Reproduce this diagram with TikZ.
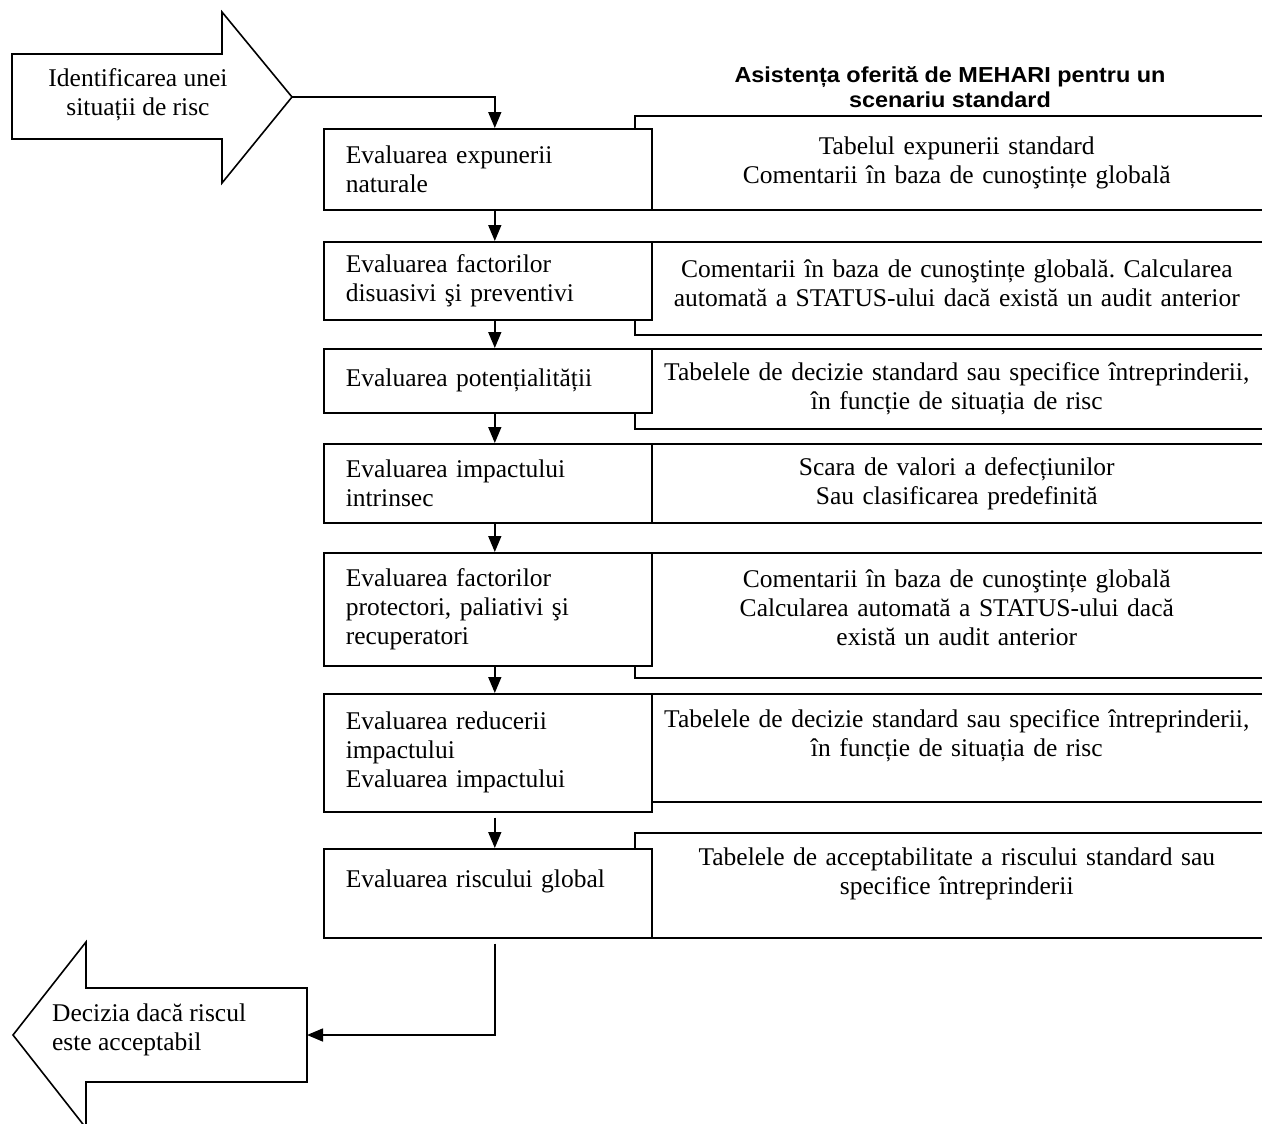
\documentclass[tikz,border=0pt]{standalone}
\usepackage{fontspec}
\setmainfont{Liberation Serif}
\newfontfamily\headfont{Liberation Sans}[FakeStretch=1.08]
\usepackage{tikz}
\usetikzlibrary{arrows.meta}
\frenchspacing

\begin{document}
\begin{tikzpicture}[x=1pt,y=-1pt,line width=1.6pt,
    every node/.style={font=\fontsize{25.5}{29}\selectfont},
    evalbox/.style={draw,fill=white,anchor=north west,minimum width=328pt,
        text width=284pt,inner xsep=22pt,inner ysep=0pt,align=left},
    infobox/.style={draw,anchor=north west,minimum width=644pt,
        text width=600pt,inner xsep=22pt,inner ysep=0pt,align=center},
    flow/.style={-{Triangle[length=16pt,width=13pt]}}]
    \useasboundingbox (0,0) rectangle (1262,1124);

    % Title above the right column
    \node[align=center,font=\headfont\bfseries\fontsize{21.7}{25}\selectfont] (title) at (950,87)
        {Asistența oferită de MEHARI pentru un\\scenariu standard};

    % Entry arrow
    \draw (12,54) -- (222,54) -- (222,12) -- (292,97) -- (222,183) -- (222,139) -- (12,139) -- cycle;
    \coordinate (entry) at (292,97);
    \node[align=center] (start) at (138,95) {Identificarea unei\\situații de risc};

    % Help given by MEHARI (right column, drawn first so the steps cover it)
    \node[infobox,minimum height=94pt] (r1) at (634,115)
        {Tabelul expunerii standard\\Comentarii în baza de cunoştințe globală};
    \node[infobox,minimum height=93pt] (r2) at (634,241)
        {Comentarii în baza de cunoştințe globală. Calcularea\\automată a STATUS-ului dacă există un audit anterior\\[-19pt]\mbox{}};
    \node[infobox,minimum height=80pt] (r3) at (634,348)
        {Tabelele de decizie standard sau specifice întreprinderii,\\în funcție de situația de risc};
    \node[infobox,minimum height=79pt] (r4) at (634,443)
        {Scara de valori a defecțiunilor\\Sau clasificarea predefinită};
    \node[infobox,minimum height=125pt] (r5) at (634,552)
        {Comentarii în baza de cunoştințe globală\\Calcularea automată a STATUS-ului dacă\\există un audit anterior\\[-13pt]\mbox{}};
    \node[infobox,minimum height=108pt] (r6) at (634,693)
        {Tabelele de decizie standard sau specifice întreprinderii,\\în funcție de situația de risc\\\mbox{}};
    \node[infobox,minimum height=105pt] (r7) at (634,832)
        {Tabelele de acceptabilitate a riscului standard sau\\specifice întreprinderii\\\mbox{}};

    % Evaluation steps (left column)
    \node[evalbox,minimum height=81pt] (e1) at (323,128) {Evaluarea expunerii\\naturale};
    \node[evalbox,minimum height=78pt] (e2) at (323,241) {Evaluarea factorilor\\disuasivi şi preventivi};
    \node[evalbox,minimum height=64pt] (e3) at (323,348) {Evaluarea potențialității};
    \node[evalbox,minimum height=79pt] (e4) at (323,443) {Evaluarea impactului\\intrinsec};
    \node[evalbox,minimum height=113pt] (e5) at (323,552) {Evaluarea factorilor\\protectori, paliativi şi\\recuperatori};
    \node[evalbox,minimum height=118pt] (e6) at (323,693) {Evaluarea reducerii\\impactului\\Evaluarea impactului};
    \node[evalbox,minimum height=89pt] (e7) at (323,848) {Evaluarea riscului global\\\mbox{}};

    % Arrows down the column
    \draw[flow] (entry) -| ([xshift=7pt]e1.north);
    \foreach \a/\b in {e1/e2, e2/e3, e3/e4, e4/e5, e5/e6}
        \draw[flow] ([xshift=7pt]\a.south) -- ([xshift=7pt]\b.north);
    \draw[flow] ([xshift=7pt,yshift=-5pt]e6.south) -- ([xshift=7pt]e7.north);

    % Exit arrow
    \draw (307,988) -- (86,988) -- (86,942) -- (13,1035) -- (86,1128) -- (86,1082) -- (307,1082) -- cycle;
    \coordinate (exit) at (307,1035);
    \node[anchor=west,align=left] (stop) at (48,1030) {Decizia dacă riscul\\este acceptabil};
    \draw[flow] ([xshift=7pt,yshift=-5pt]e7.south) |- (exit);
\end{tikzpicture}
\end{document}
